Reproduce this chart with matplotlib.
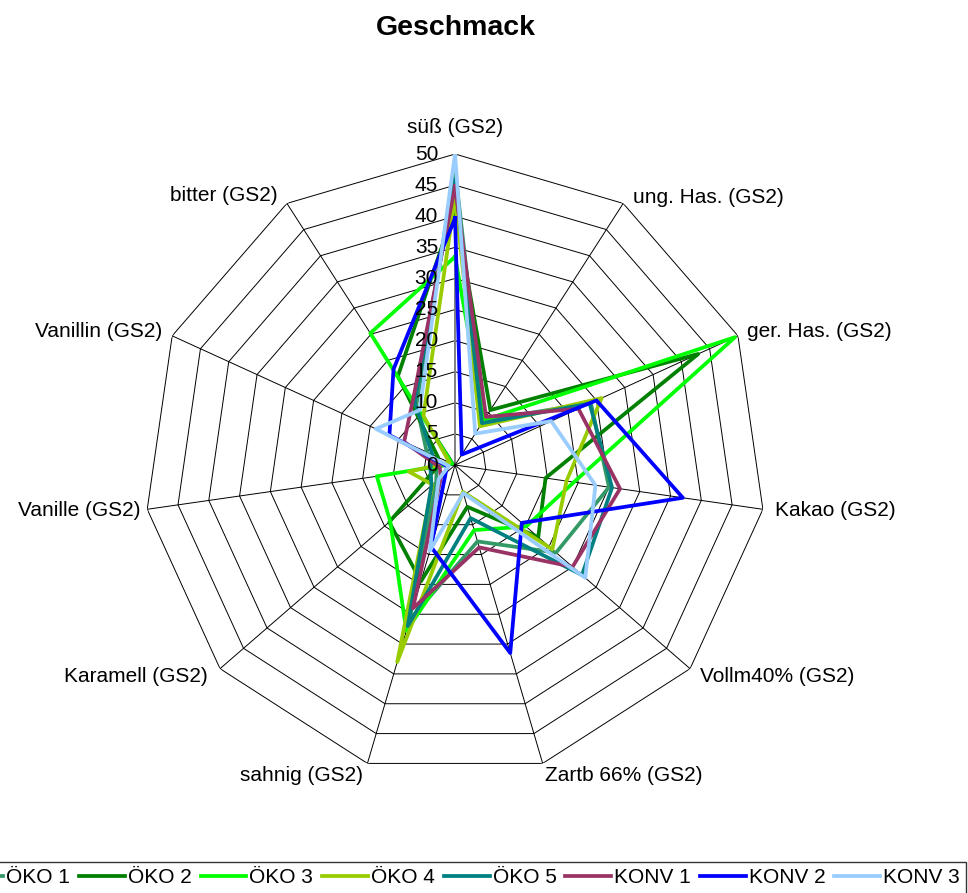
import numpy as np
import matplotlib.pyplot as plt

plt.rcParams['font.family'] = ['Liberation Sans', 'DejaVu Sans']

categories = ['süß (GS2)', 'ung. Has. (GS2)', 'ger. Has. (GS2)', 'Kakao (GS2)',
              'Vollm40% (GS2)', 'Zartb 66% (GS2)', 'sahnig (GS2)', 'Karamell (GS2)',
              'Vanille (GS2)', 'Vanillin (GS2)', 'bitter (GS2)']

names = ['ÖKO 1', 'ÖKO 2', 'ÖKO 3', 'ÖKO 4', 'ÖKO 5', 'KONV 1', 'KONV 2', 'KONV 3']
colors = ['#339966', '#008000', '#00FF00', '#99CC00', '#008080', '#993366', '#0000FF', '#99CCFF']

oeko1 = [47.5, 8.5, 24.0, 25.0, 21.5, 12.8, 26.0, 4.0, 3.0, 5.0, 11.5]
oeko2 = [41.3, 10.5, 43.0, 14.7, 17.7, 7.0, 19.5, 14.0, 3.0, 3.0, 17.0]
oeko3 = [33.5, 8.6, 49.5, 19.3, 15.1, 10.9, 27.8, 13.8, 12.7, 0.5, 25.2]
oeko4 = [43.0, 7.4, 25.9, 18.1, 20.7, 4.5, 33.0, 4.8, 7.5, 1.0, 9.4]
oeko5 = [45.8, 8.0, 23.8, 25.5, 27.0, 8.9, 27.0, 5.0, 4.0, 4.0, 12.0]
konv1 = [44.8, 9.2, 21.8, 26.8, 25.0, 13.8, 24.0, 3.0, 2.5, 9.0, 12.5]
konv2 = [39.7, 2.0, 25.0, 37.0, 14.2, 31.5, 13.7, 2.0, 1.3, 11.6, 18.3]
konv3 = [50.0, 6.0, 17.0, 22.8, 27.7, 4.7, 14.4, 3.5, 1.0, 14.0, 10.5]
series = [oeko1, oeko2, oeko3, oeko4, oeko5, konv1, konv2, konv3]

ticks = list(range(0, 55, 5))

n = len(categories)
angles = np.arange(n) * 2 * np.pi / n
closed = np.append(angles, angles[0])

fig = plt.figure(figsize=(9.68, 8.93), dpi=100)
ax = fig.add_axes([0.1488, 0.131, 0.6426, 0.6965], projection='polar')
ax.set_theta_zero_location('N')
ax.set_theta_direction(-1)
ax.axis('off')
ax.set_ylim(0, 50)

# Gitter: Polygone und Speichen
for r in ticks[1:]:
    ax.plot(closed, [r] * (n + 1), color='black', lw=0.7, zorder=1)
for i, a in enumerate(angles):
    c = '#808080' if i == 0 else 'black'
    ax.plot([a, a], [0, 50], color=c, lw=1.4 if i == 0 else 0.7, zorder=1)

lines = []
for vals, name, col in zip(series, names, colors):
    ln, = ax.plot(closed, vals + [vals[0]], color=col, lw=2.7, label=name, zorder=3)
    lines.append(ln)

for v in ticks:
    ax.annotate(str(v), xy=(0, v), xytext=(-17, 0), textcoords='offset pixels',
                ha='right', va='center', fontsize=15, zorder=5)

label_pos = [
    ('center', 'bottom', 0, 17),
    ('left', 'center', 10, 6),
    ('left', 'center', 9, 4),
    ('left', 'center', 12, -1),
    ('left', 'center', 10, -8),
    ('left', 'top', 2, -3),
    ('right', 'top', -4, -3),
    ('right', 'center', -12, -8),
    ('right', 'center', -7, -1),
    ('right', 'center', -10, 4),
    ('right', 'center', -9, 8),
]
for a, lab, (ha, va, dx, dy) in zip(angles, categories, label_pos):
    ax.annotate(lab, xy=(a, 50), xytext=(dx, dy), textcoords='offset pixels',
                ha=ha, va=va, fontsize=15, annotation_clip=False)

fig.text(0.471, 1 - 28 / 893, 'Geschmack', ha='center', va='center',
         fontsize=20.5, fontweight='bold')

leg = fig.legend(lines, names, loc='upper right', bbox_to_anchor=(966 / 968, 1 - 862 / 893),
                 bbox_transform=fig.transFigure, ncol=8, fontsize=15, frameon=True,
                 fancybox=False, edgecolor='black', handlelength=2.2, handletextpad=0.15,
                 columnspacing=0.42, borderaxespad=0, borderpad=0.3)
leg.get_frame().set_linewidth(1.0)

fig.savefig('out.png', dpi=100)
